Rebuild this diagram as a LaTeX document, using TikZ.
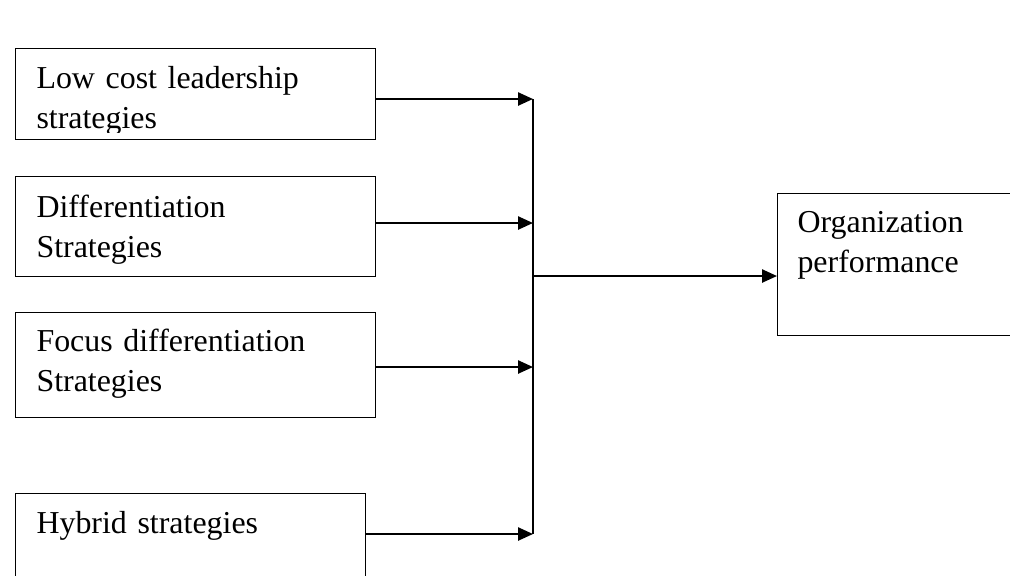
\documentclass[tikz,border=0pt]{standalone}
\usepackage{fontspec}
\setmainfont{Liberation Serif}
\usepackage{tikz}
\usetikzlibrary{calc,arrows.meta}
\newcommand{\px}{0.376pt}

\tikzset{
  stratbox/.style={draw, line width=0.5pt, fill=white, anchor=north west, inner sep=0pt, minimum width=360*\px},
  boxtext/.style={anchor=base west, inner sep=0pt, align=left, text width=330*\px, font=\fontsize{12}{15.4}\selectfont},
  link/.style={line width=0.8pt},
}

\begin{document}
\begin{tikzpicture}[x=\px,y=-\px,>={Triangle[length=5.6pt,width=4.9pt]}]

    \useasboundingbox (0,0) rectangle (1010,575);
    \clip (0,0) rectangle (1010,575);

    % Les boites des strategies et la performance
    \node[stratbox, minimum height=91*\px] (low) at (15,48) {};
    \node[stratbox, minimum height=100*\px] (diff) at (15,176) {};
    \node[stratbox, minimum height=105*\px] (focus) at (15,312) {};
    \node[stratbox, minimum width=350*\px, minimum height=120*\px] (hybrid) at (15,493) {};
    \node[stratbox, minimum width=260*\px, minimum height=142*\px] (org) at (777,193) {};

    % Les textes
    \begin{scope}
        \clip (low.north west) rectangle ($(low.south east)+(0,-8)$);
        \node[boxtext] (lowtxt) at ($(low.north west)+(21,40)$) {Low cost leadership\\strategies};
    \end{scope}
    \node[boxtext] (difftxt) at ($(diff.north west)+(21,41)$) {Differentiation\\Strategies};
    \node[boxtext] (focustxt) at ($(focus.north west)+(21,39)$) {Focus differentiation\\Strategies};
    \node[boxtext] (hybridtxt) at ($(hybrid.north west)+(21,40)$) {Hybrid strategies};
    \node[boxtext, text width=200*\px] (orgtxt) at ($(org.north west)+(20,39)$) {Organization\\performance};

    % Le bus vertical
    \coordinate (b1) at (533,99);
    \coordinate (b2) at (533,223);
    \coordinate (b3) at (533,367);
    \coordinate (b4) at (533,534);
    \coordinate (bout) at (533,276);

    \draw[link] (b1) -- (b4);

    % Les fleches
    \draw[link,->] (low.east |- b1) -- (b1);
    \draw[link,->] (diff.east |- b2) -- (b2);
    \draw[link,->] (focus.east |- b3) -- (b3);
    \draw[link,->] (hybrid.east |- b4) -- (b4);
    \draw[link,->] (bout) -- (org.west |- bout);
\end{tikzpicture}
\end{document}
